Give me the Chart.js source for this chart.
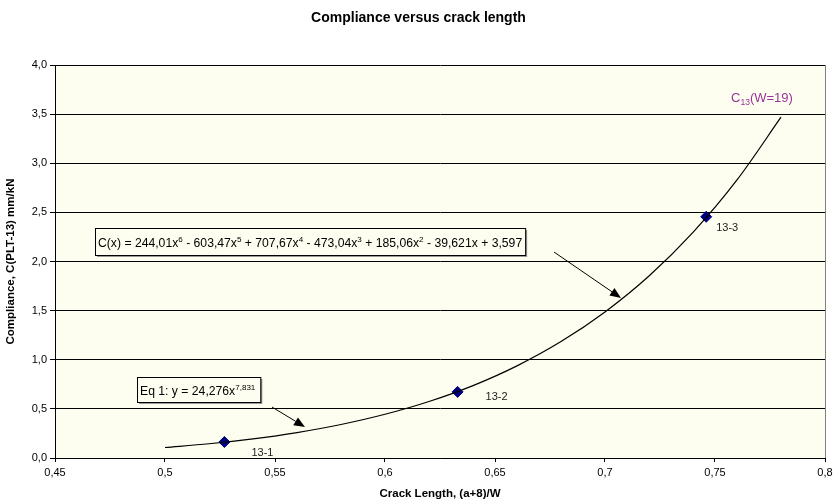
<!DOCTYPE html>
<html><head><meta charset="utf-8">
<script src="https://cdn.jsdelivr.net/npm/chart.js@4.4.0/dist/chart.umd.min.js"></script>
<style>html,body{margin:0;padding:0;background:#fff}#wrap{width:833px;height:502px}</style>
</head><body><div id="wrap"><canvas id="c" width="833" height="502"></canvas></div>
<script>
// Measured specimens
const pointNames = ['13-1', '13-2', '13-3'];
const pointX = [0.527, 0.633, 0.746];
const pointY = [0.163, 0.673, 2.455];
// Fitted curve
const curveX = [0.50, 0.52, 0.54, 0.56, 0.58, 0.60, 0.62, 0.64, 0.66, 0.68, 0.70, 0.72, 0.74, 0.76, 0.78];
const curveY = [0.107, 0.145, 0.195, 0.259, 0.341, 0.445, 0.575, 0.737, 0.938, 1.185, 1.487, 1.853, 2.297, 2.830, 3.469];
const titleText = 'Compliance versus crack length';
const xTitle = 'Crack Length, (a+8)/W';
const yTitle = 'Compliance, C(PLT-13) mm/kN';

const SANS = '"Liberation Sans", Arial, sans-serif';

function richText(ctx, parts, x, y, size) {
  let cx = x;
  for (const [t, kind] of parts) {
    if (kind === 'sup') {
      ctx.font = (size * 0.66) + 'px ' + SANS;
      ctx.fillText(t, cx, y - size * 0.42);
    } else if (kind === 'sub') {
      ctx.font = (size * 0.66) + 'px ' + SANS;
      ctx.fillText(t, cx, y + size * 0.2);
    } else {
      ctx.font = size + 'px ' + SANS;
      ctx.fillText(t, cx, y);
    }
    cx += ctx.measureText(t).width;
  }
  return cx - x;
}
function measureRich(ctx, parts, size) {
  let w = 0;
  for (const [t, kind] of parts) {
    ctx.font = (kind ? size * 0.66 : size) + 'px ' + SANS;
    w += ctx.measureText(t).width;
  }
  return w;
}
function arrow(ctx, x1, y1, x2, y2) {
  const a = Math.atan2(y2 - y1, x2 - x1), L = 11, W = 4.5;
  const bx = x2 - L * Math.cos(a), by = y2 - L * Math.sin(a);
  ctx.strokeStyle = '#000'; ctx.lineWidth = 1;
  ctx.beginPath(); ctx.moveTo(x1, y1); ctx.lineTo(bx, by); ctx.stroke();
  ctx.fillStyle = '#000';
  ctx.beginPath(); ctx.moveTo(x2, y2);
  ctx.lineTo(bx + W * Math.sin(a), by - W * Math.cos(a));
  ctx.lineTo(bx - W * Math.sin(a), by + W * Math.cos(a));
  ctx.closePath(); ctx.fill();
}
function box(ctx, x, y, w, h) {
  ctx.fillStyle = '#9a9a9a';
  ctx.fillRect(x + 2, y + 2, w, h);
  ctx.fillStyle = '#fefef0';
  ctx.fillRect(x, y, w, h);
  ctx.strokeStyle = '#000'; ctx.lineWidth = 1;
  ctx.strokeRect(x + 0.5, y + 0.5, w, h);
}

const bgPlugin = {
  id: 'bg',
  beforeDraw(chart) {
    const {ctx, chartArea: a} = chart;
    ctx.save(); ctx.fillStyle = '#fefef0';
    ctx.fillRect(a.left, a.top, a.right - a.left, a.bottom - a.top);
    ctx.restore();
  },
  afterDatasetsDraw(chart) {
    const {ctx, chartArea: a} = chart;
    ctx.save();
    // right border
    ctx.strokeStyle = '#808080'; ctx.lineWidth = 1;
    ctx.beginPath(); ctx.moveTo(Math.round(a.right) + 0.5, a.top); ctx.lineTo(Math.round(a.right) + 0.5, a.bottom); ctx.stroke();
    // point labels
    const meta = chart.getDatasetMeta(1);
    const offs = [[38, 11], [39, 5], [21, 11]];
    ctx.fillStyle = '#222'; ctx.font = '11px ' + SANS; ctx.textAlign = 'center'; ctx.textBaseline = 'middle';
    meta.data.forEach((p, i) => ctx.fillText(pointNames[i], p.x + offs[i][0], p.y + offs[i][1]));
    // series label
    ctx.textAlign = 'left'; ctx.textBaseline = 'alphabetic'; ctx.fillStyle = '#993399';
    richText(ctx, [['C'], ['13', 'sub'], ['(W=19)']], 731, 102, 13);
    // polynomial box
    ctx.fillStyle = '#000';
    const p1 = [['C(x) = 244,01x'], ['6', 'sup'], [' - 603,47x'], ['5', 'sup'], [' + 707,67x'], ['4', 'sup'], [' - 473,04x'], ['3', 'sup'], [' + 185,06x'], ['2', 'sup'], [' - 39,621x + 3,597']];
    const w1 = measureRich(ctx, p1, 12.2);
    box(ctx, 95, 228, w1 + 6, 27);
    ctx.fillStyle = '#000';
    richText(ctx, p1, 98, 247, 12.2);
    arrow(ctx, 554, 252, 621, 298);
    // power box
    const p2 = [['Eq 1: y = 24,276x'], ['7,831', 'sup']];
    const w2 = measureRich(ctx, p2, 12.2);
    box(ctx, 137, 377, w2 + 8, 25);
    ctx.fillStyle = '#000';
    richText(ctx, p2, 140, 395, 12.2);
    arrow(ctx, 272, 407, 305, 427);
    ctx.restore();
  }
};

const comma = v => String(Math.round(v * 100) / 100).replace('.', ',');

new Chart(document.getElementById('c'), {
  type: 'scatter',
  data: {
    datasets: [
      {
        label: 'Eq 1',
        data: curveX.map((x, i) => ({x, y: curveY[i]})),
        showLine: true, borderColor: '#000', borderWidth: 1.2,
        pointRadius: 0, cubicInterpolationMode: 'monotone', fill: false
      },
      {
        label: 'C13(W=19)',
        data: pointX.map((x, i) => ({x, y: pointY[i]})),
        pointStyle: 'rectRot', pointRadius: 5.5,
        backgroundColor: '#000080', borderColor: '#000080', showLine: false
      }
    ]
  },
  options: {
    responsive: false, animation: false,
    layout: {padding: {left: 4, right: 0, top: 0, bottom: 1}},
    plugins: {
      legend: {display: false}, tooltip: {enabled: false},
      title: {display: true, text: titleText, color: '#000',
        font: {family: SANS, size: 14, weight: 'bold'}, padding: {top: 9.5, bottom: 38.7}}
    },
    scales: {
      x: {
        type: 'linear', min: 0.45, max: 0.8,
        ticks: {stepSize: 0.05, color: '#000', font: {family: SANS, size: 11}, callback: v => comma(v), padding: 4, maxRotation: 0},
        grid: {drawOnChartArea: false, color: '#000', tickLength: 4},
        border: {color: '#000'},
        title: {display: true, text: xTitle, color: '#000', font: {family: SANS, size: 11.5, weight: 'bold'}, padding: {top: 6, bottom: 0}},
        afterFit: s => { s.height = 43; s.paddingRight = 8; }
      },
      y: {
        min: 0, max: 4,
        ticks: {stepSize: 0.5, color: '#000', font: {family: SANS, size: 11}, callback: v => comma(v).includes(',') ? comma(v) : comma(v) + ',0', padding: 3},
        grid: {color: '#000', tickLength: 5},
        border: {color: '#000'},
        title: {display: true, text: yTitle, color: '#000', font: {family: SANS, size: 11.5, weight: 'bold'}, padding: {top: 0, bottom: 3}},
        afterFit: s => { s.width = 51; }
      }
    }
  },
  plugins: [bgPlugin]
});
</script></body></html>
